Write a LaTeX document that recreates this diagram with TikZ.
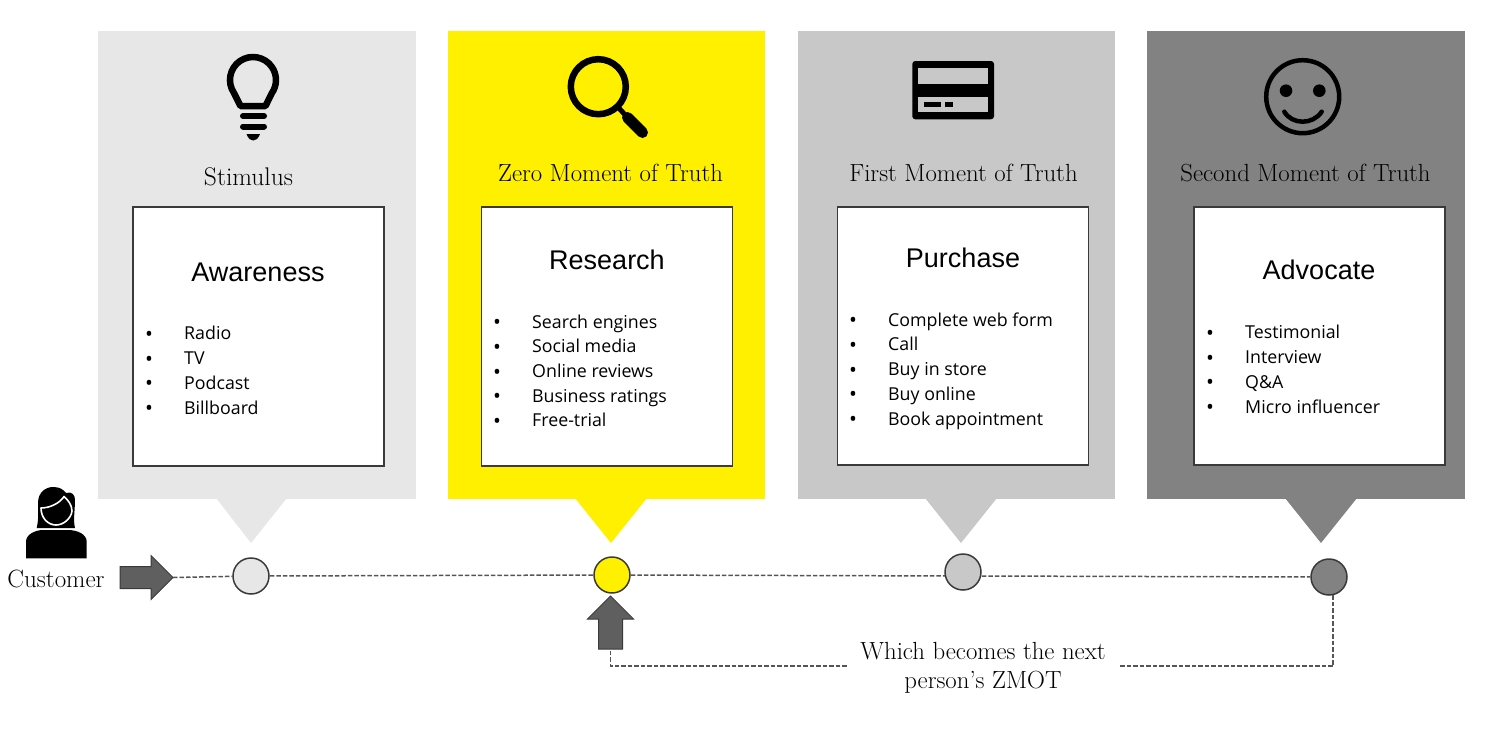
\documentclass[tikz,border=0pt]{standalone}
\usepackage{fontspec}
\usetikzlibrary{calc,positioning,shapes.arrows}

\newfontfamily\headfont{Liberation Sans}
\newfontfamily\listfont{Open Sans}
\newcommand{\listitem}[1]{\makebox[39pt][l]{\raisebox{-1.5pt}{\fontsize{21}{21}\selectfont\textbullet}}#1}

\definecolor{panel-light}{HTML}{E7E7E7}
\definecolor{panel-yellow}{HTML}{FFF000}
\definecolor{panel-mid}{HTML}{C8C8C8}
\definecolor{panel-dark}{HTML}{828282}
\definecolor{arrow-grey}{HTML}{5F5F5F}
\definecolor{edge-grey}{HTML}{3A3A3A}
\definecolor{line-grey}{HTML}{555555}

\begin{document}
\begin{tikzpicture}[x=1pt,y=-1pt]
  \useasboundingbox (0,0) rectangle (1500,729);
  % panels
  \begin{scope}[
    every node/.style={
      inner sep=0pt,
      outer sep=0pt,
      minimum width=317.5pt,
      minimum height=468pt,
    },
    node distance=32.2pt,
    ]
    \node[fill=panel-light] (panel-stimulus) at (257,265) {};
    \node[fill=panel-yellow, right=of panel-stimulus] (panel-zero) {};
    \node[fill=panel-mid, right=of panel-zero] (panel-first) {};
    \node[fill=panel-dark, right=of panel-first] (panel-second) {};
  \end{scope}
  \fill[panel-light]  (216,498) -- (287,498) -- (251,543) -- cycle;
  \fill[panel-yellow] (575,498) -- (647,498) -- (611,543) -- cycle;
  \fill[panel-mid]    (925,498) -- (997,498) -- (961,543) -- cycle;
  \fill[panel-dark]   (1285,498) -- (1357,498) -- (1321,543) -- cycle;
  % icons
  \begin{scope}[line join=round, line cap=round]
    \draw[line width=6.5pt] (240.5,106) -- (234,93)
    arc[start angle=145.6, end angle=394.4, radius=23] -- (265.5,106) -- cycle;
    \draw[line width=6pt] (243,116) -- (264,116);
    \draw[line width=6pt] (243,126.5) -- (264,126.5);
    \fill (246.5,134) -- (260,134) .. controls (258,139) and (256,140.5) .. (253.2,140.5)
    .. controls (250.5,140.5) and (248.5,139) .. (246.5,134) -- cycle;
    \draw[line width=6.5pt] (598.3,86.7) circle[radius=27.5];
    \draw[line width=5pt, line cap=butt] (617,106) -- (628,118);
    \draw[line width=11pt] (627.5,117.5) -- (642.5,132.5);
    \fill[rounded corners=3pt] (912.3,61) rectangle (994,119.3);
    \fill[panel-mid] (918.3,68.3) rectangle (988.3,84);
    \fill[panel-mid] (918.3,96.7) rectangle (988.3,112.3);
    \fill (924,102.3) rectangle (941,106.7);
    \fill (945,102.3) rectangle (953.3,106.7);
    \draw[line width=4.5pt] (1302.7,96.7) circle[radius=36.5];
    \fill (1286,90.7) circle[radius=6.3];
    \fill (1319.3,90.7) circle[radius=6.3];
    \draw[line width=4.5pt] (1284.3,111.7) .. controls (1292,125) and (1313,125) .. (1321.7,111.7);
    % customer
    \fill (26,558.3) -- (26,541.7) .. controls (26,534) and (36,530) .. (43,530)
    -- (68,530) .. controls (77,530) and (86.7,534) .. (86.7,541.7) -- (86.7,558.3) -- cycle;
    \fill (36.7,528) .. controls (39,518) and (38,510) .. (38,503)
    .. controls (38,492) and (46,487) .. (53,487)
    .. controls (59,487) and (63,489) .. (66,493)
    .. controls (72,491) and (75,495) .. (75,500)
    .. controls (75,510) and (73,520) .. (75,528) -- cycle;
    \draw[white, line width=1.6pt] (41,508) .. controls (50,508) and (60,503) .. (64,496.5)
    .. controls (68,500) and (72,505) .. (72,511)
    .. controls (71,519) and (63,525) .. (56,525)
    .. controls (48,525) and (41,518) .. (41,508) -- cycle;
  \end{scope}
  \node[font=\fontsize{25}{29}\selectfont] (customer) at (56,579) {Customer};
  % moments
  \begin{scope}[
    every node/.style={
      anchor=base,
      font=\fontsize{24.8}{29}\selectfont,
    },
    ]
    \node[font=\fontsize{25.5}{29}\selectfont] (title-stimulus) at (248.5,185) {Stimulus};
    \node (title-zero)     at (610.5,181) {Zero Moment of Truth};
    \node (title-first)    at (963.5,181) {First Moment of Truth};
    \node (title-second)   at (1305.5,181) {Second Moment of Truth};
  \end{scope}
  % white boxes
  \begin{scope}[
    every node/.style={
      draw=edge-grey,
      fill=white,
      line width=1.5pt,
      minimum width=251pt,
      inner sep=0pt,
    },
    ]
    \node[minimum height=259pt] (box-awareness) at (258.5,336.5) {};
    \node[minimum height=259pt] (box-research)  at (607,336.5)   {};
    \node[minimum height=258pt] (box-purchase)  at (963,336)     {};
    \node[minimum height=258pt] (box-advocate)  at (1319.5,336)  {};
  \end{scope}
  \begin{scope}[
    every node/.style={font=\headfont\fontsize{27}{32}\selectfont},
    ]
    \node (head-awareness) at (258,272) {Awareness};
    \node (head-research)  at (607,260) {Research};
    \node (head-purchase)  at (963,258) {Purchase};
    \node (head-advocate)  at (1319,270) {Advocate};
  \end{scope}
  \begin{scope}[
    every node/.style={
      anchor=west,
      align=left,
      inner sep=0pt,
      font=\listfont\fontsize{17.8}{24.7}\selectfont,
    },
    ]
    \node (list-awareness) at (145,371) {\listitem{Radio}\\\listitem{TV}\\\listitem{Podcast}\\\listitem{Billboard}};
    \node (list-research) at (493,371.5) {\listitem{Search engines}\\\listitem{Social media}\\\listitem{Online reviews}\\\listitem{Business ratings}\\\listitem{Free-trial}};
    \node (list-purchase) at (849,371) {\listitem{Complete web form}\\\listitem{Call}\\\listitem{Buy in store}\\\listitem{Buy online}\\\listitem{Book appointment}};
    \node (list-advocate) at (1206,370) {\listitem{Testimonial}\\\listitem{Interview}\\\listitem{Q\&A}\\\listitem{Micro influencer}};
  \end{scope}
  % timeline
  \tikzset{
    dot/.style={
      circle,
      draw=edge-grey,
      line width=1.5pt,
      minimum size=36pt,
      inner sep=0pt,
    },
  }
  \node[dot, fill=panel-light]  (dot-stimulus) at (251,576) {};
  \node[dot, fill=panel-yellow] (dot-zero)     at (612,575) {};
  \node[dot, fill=panel-dark]   (dot-second)   at (1329,577) {};
  \begin{scope}[
    every node/.style={
      single arrow,
      draw=edge-grey,
      fill=arrow-grey,
      line width=1pt,
      inner xsep=0pt,
      outer sep=0pt,
      minimum height=53pt,
      single arrow head extend=11pt,
    },
    ]
    \node[inner ysep=10.5pt] (arrow-in) at (141,577.5) {};
    \node[inner ysep=11.5pt, rotate=90] (arrow-back) at (610.5,628.5) {};
  \end{scope}
  \node[minimum width=272pt, align=center, inner sep=0pt,
  font=\fontsize{24.8}{29}\selectfont] (note) at (983,667.5) {Which becomes the next\\person’s ZMOT};
  \coordinate (back-right) at (1333,666);
  \coordinate (back-left) at (610.5,666);
  \coordinate (back-up) at (1333,595);
  \begin{scope}[every path/.style={draw=line-grey, line width=1.5pt, dash pattern=on 4.5pt off 2pt}]
    \path (arrow-in.tip) -- (dot-stimulus) -- (dot-zero) -- (dot-second);
    \path (back-up) -- (back-right) -- (back-right -| note.east);
    \path (back-left -| note.west) -- (back-left) -- (arrow-back.tail);
  \end{scope}
  \node[dot, fill=panel-mid] (dot-first) at (963,572) {};
\end{tikzpicture}
\end{document}
